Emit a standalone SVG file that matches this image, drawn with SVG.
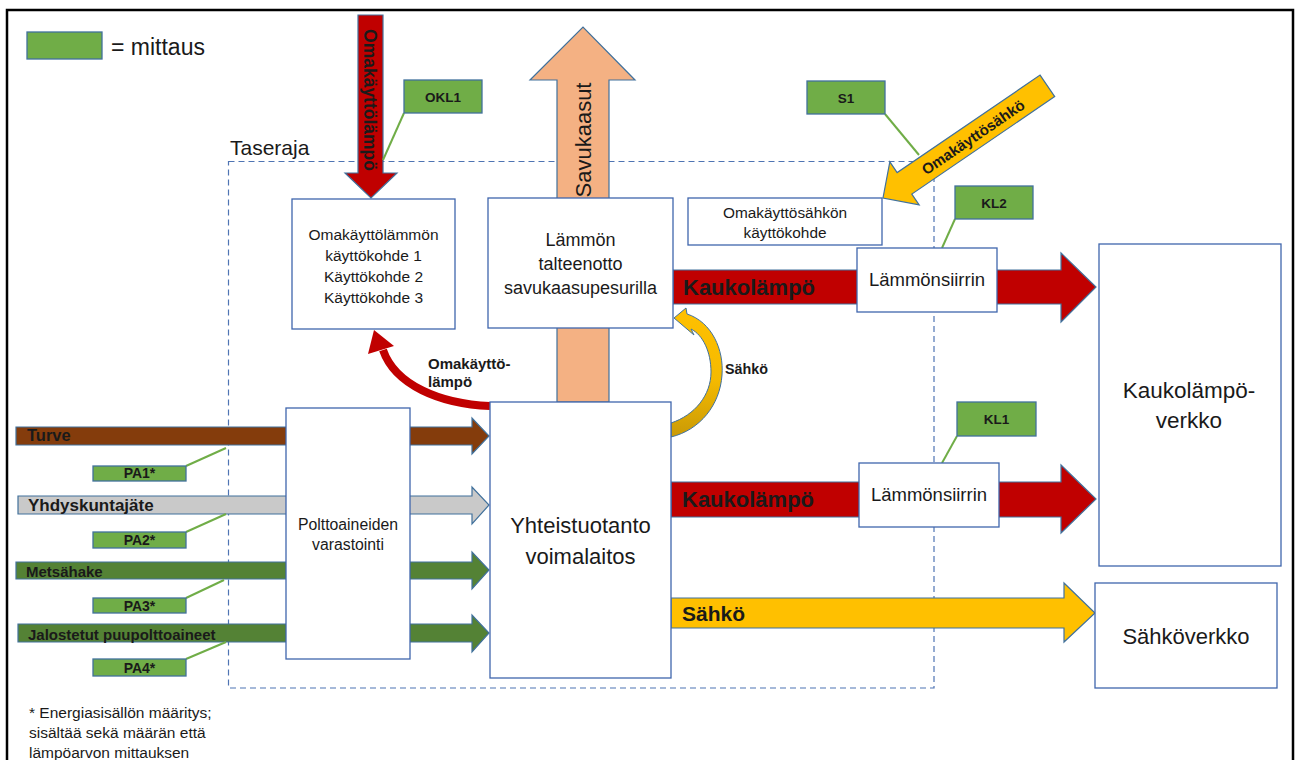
<svg xmlns="http://www.w3.org/2000/svg" width="1295" height="760" viewBox="0 0 1295 760">
<defs>
<style>
text{font-family:"Liberation Sans",Arial,sans-serif;fill:#1a1a1a}
.b{font-weight:bold}
.box{fill:#fff;stroke:#3f66ad;stroke-width:1.3}
.meas{fill:#70AD47;stroke:#41719C;stroke-width:1.3}
.mline{stroke:#70AD47;stroke-width:2;fill:none}
.flow{stroke:#41719C;stroke-width:1.2}
.red{fill:#C00000}
.mid{text-anchor:middle}
</style>
<linearGradient id="gy" x1="0" y1="0" x2="0" y2="1">
<stop offset="0" stop-color="#FFC000"/>
<stop offset="0.55" stop-color="#F5BA00"/>
<stop offset="1" stop-color="#C99A06"/>
</linearGradient>
</defs>
<rect width="1295" height="760" fill="#fff"/>
<path d="M7 765 V10 H1293 V765" fill="none" stroke="#000" stroke-width="2.5"/>

<g id="legend">
<rect class="meas" x="27" y="32" width="75" height="27"/>
<text x="111" y="55" style="font-size:23px">= mittaus</text>
</g>

<g id="taseraja">
<rect x="228.5" y="161.5" width="705.5" height="526.5" fill="none" stroke="#4f74b3" stroke-width="1.2" stroke-dasharray="6 4"/>
<text x="230" y="155" style="font-size:21px">Taseraja</text>
</g>

<g id="connectors">
<!-- fuel arrows -->
<polygon class="flow" fill="#843C0C" points="16,427 472,427 472,418 489,436 472,454 472,445 16,445"/>
<polygon class="flow" fill="#C9C9C9" points="18,496 472,496 472,487 489,505 472,524 472,514 18,514"/>
<polygon class="flow" fill="#548235" points="16,562 472,562 472,552 489,570 472,589 472,579 16,579"/>
<polygon class="flow" fill="#548235" points="18,624 472,624 472,615 489,633 472,652 472,642 18,642"/>
<!-- top omakäyttölämpö -->
<polygon class="flow red" points="358,15 383,15 383,173 397,173 371,198 345,173 358,173"/>
<!-- savukaasut -->
<polygon class="flow" fill="#F4B183" points="557,402 557,80 530,80 583,27 635,80 609,80 609,402"/>
<!-- kaukolämpö -->
<polygon class="flow red" points="673,270 1061,270 1061,253 1096,287 1061,322 1061,304 673,304"/>
<polygon class="flow red" points="671,482 1061,482 1061,465 1096,499 1061,533 1061,517 671,517"/>
<!-- sähkö -->
<polygon class="flow" fill="#FFC000" points="671,598 1064,598 1064,583 1095,613 1064,642 1064,628 671,628"/>
<!-- omakäyttösähkö diagonal -->
<polygon class="flow" fill="#FFC000" transform="translate(883,198) rotate(145.7)" points="-199,-13 -26,-13 -26,-26 0,0 -26,26 -26,13 -199,13"/>
<!-- curved omakäyttölämpö -->
<path d="M490 406 C440 404 395 385 383 350" fill="none" stroke="#C00000" stroke-width="8"/>
<polygon class="red" points="374,330 394,346 368,354"/>
<!-- curved sähkö -->
<path d="M674 318 L686 308 L687 314 C712 322 724 350 722 375 C720 405 700 430 671 437 L671 423 C695 415 711 395 711 372 C711 352 703 335 691 329 L694 335 Z" fill="url(#gy)" stroke="#41719C" stroke-width="1"/>
<!-- measurement leader lines -->
<line class="mline" x1="404" y1="113" x2="383" y2="160"/>
<line class="mline" x1="885" y1="114" x2="919" y2="155"/>
<line class="mline" x1="955" y1="219" x2="942" y2="248"/>
<line class="mline" x1="957" y1="436" x2="942" y2="463"/>
<line class="mline" x1="186" y1="466" x2="226" y2="448"/>
<line class="mline" x1="186" y1="532" x2="226" y2="514"/>
<line class="mline" x1="186" y1="598" x2="224" y2="580"/>
<line class="mline" x1="186" y1="659" x2="226" y2="642"/>
</g>

<g id="flow-labels">
<text class="b" x="27" y="441" style="font-size:16.5px">Turve</text>
<text class="b" x="28" y="511" style="font-size:17px">Yhdyskuntajäte</text>
<text class="b" x="26" y="576.5" style="font-size:15px">Metsähake</text>
<text class="b" x="28" y="639.5" style="font-size:15px">Jalostetut puupolttoaineet</text>
<text class="b mid" transform="translate(370,100) rotate(90)" x="0" y="6" style="font-size:17.5px">Omakäyttölämpö</text>
<text class="mid" transform="translate(583,140) rotate(-90)" x="0" y="8" style="font-size:22px">Savukaasut</text>
<text class="b mid" transform="translate(973,137) rotate(-34.3)" x="0" y="5.5" style="font-size:15px">Omakäyttösähkö</text>
<text class="b" x="683" y="295" style="font-size:22px">Kaukolämpö</text>
<text class="b" x="682" y="507" style="font-size:22px">Kaukolämpö</text>
<text class="b" x="682" y="620.5" style="font-size:21px">Sähkö</text>
<text class="b" x="428" y="368.5" style="font-size:15px">Omakäyttö-</text>
<text class="b" x="428" y="387" style="font-size:15px">lämpö</text>
<text class="b" x="725" y="374" style="font-size:14.3px">Sähkö</text>
</g>

<g id="n-okl-kohde">
<rect class="box" x="292" y="199" width="163" height="130"/>
<text class="mid" x="373.5" y="239.5" style="font-size:15.5px">Omakäyttölämmön</text>
<text class="mid" x="373.5" y="260.5" style="font-size:15.5px">käyttökohde 1</text>
<text class="mid" x="373.5" y="281.5" style="font-size:15.5px">Käyttökohde 2</text>
<text class="mid" x="373.5" y="302.5" style="font-size:15.5px">Käyttökohde 3</text>
</g>

<g id="n-lammon-talteenotto">
<rect class="box" x="488" y="198" width="185" height="130"/>
<text class="mid" x="580.5" y="245.5" style="font-size:18px">Lämmön</text>
<text class="mid" x="580.5" y="269.5" style="font-size:18px">talteenotto</text>
<text class="mid" x="580.5" y="293.5" style="font-size:18px">savukaasupesurilla</text>
</g>

<g id="n-oks-kohde">
<rect class="box" x="688" y="198" width="194" height="47"/>
<text class="mid" x="785" y="217.5" style="font-size:15.4px">Omakäyttösähkön</text>
<text class="mid" x="785" y="237.5" style="font-size:15.4px">käyttökohde</text>
</g>

<g id="n-lammonsiirrin-2">
<rect class="box" x="857" y="248" width="140" height="64"/>
<text class="mid" x="927" y="285.5" style="font-size:18.5px">Lämmönsiirrin</text>
</g>

<g id="n-lammonsiirrin-1">
<rect class="box" x="859" y="463" width="140" height="64"/>
<text class="mid" x="929" y="500.5" style="font-size:18.5px">Lämmönsiirrin</text>
</g>

<g id="n-polttoaineet">
<rect class="box" x="286" y="408" width="124" height="251"/>
<text class="mid" x="348" y="530" style="font-size:15.8px">Polttoaineiden</text>
<text class="mid" x="348" y="550" style="font-size:15.8px">varastointi</text>
</g>

<g id="n-yhteistuotanto">
<rect class="box" x="490" y="402" width="181" height="276"/>
<text class="mid" x="580.5" y="533" style="font-size:22px">Yhteistuotanto</text>
<text class="mid" x="580.5" y="564" style="font-size:22px">voimalaitos</text>
</g>

<g id="n-kaukolampoverkko">
<rect class="box" x="1099" y="244" width="182" height="322"/>
<text class="mid" x="1189" y="398" style="font-size:22.5px">Kaukolämpö-</text>
<text class="mid" x="1189" y="428" style="font-size:22.5px">verkko</text>
</g>

<g id="n-sahkoverkko">
<rect class="box" x="1095" y="583" width="182" height="105"/>
<text class="mid" x="1186" y="644" style="font-size:22px">Sähköverkko</text>
</g>

<g id="m-okl1"><rect class="meas" x="404" y="80" width="78" height="33"/><text class="b mid" x="443" y="101.5" style="font-size:13.5px">OKL1</text></g>
<g id="m-s1"><rect class="meas" x="807" y="81" width="78" height="33"/><text class="b mid" x="846" y="102.5" style="font-size:13.5px">S1</text></g>
<g id="m-kl2"><rect class="meas" x="955" y="186" width="78" height="33"/><text class="b mid" x="994" y="207.5" style="font-size:13.5px">KL2</text></g>
<g id="m-kl1"><rect class="meas" x="957" y="402" width="79" height="34"/><text class="b mid" x="996.5" y="424" style="font-size:13.5px">KL1</text></g>
<g id="m-pa1"><rect class="meas" x="93" y="466" width="93" height="15"/><text class="b mid" x="139.5" y="478" style="font-size:14px">PA1*</text></g>
<g id="m-pa2"><rect class="meas" x="93" y="532" width="93" height="16"/><text class="b mid" x="139.5" y="545" style="font-size:14px">PA2*</text></g>
<g id="m-pa3"><rect class="meas" x="93" y="598" width="93" height="15"/><text class="b mid" x="139.5" y="610.5" style="font-size:14px">PA3*</text></g>
<g id="m-pa4"><rect class="meas" x="93" y="659" width="93" height="17"/><text class="b mid" x="139.5" y="672.5" style="font-size:14px">PA4*</text></g>

<g id="footnote">
<text x="29" y="718" style="font-size:15.5px">* Energiasisällön määritys;</text>
<text x="29" y="738" style="font-size:15.5px">sisältää sekä määrän että</text>
<text x="29" y="758" style="font-size:15.5px">lämpöarvon mittauksen</text>
</g>
</svg>
